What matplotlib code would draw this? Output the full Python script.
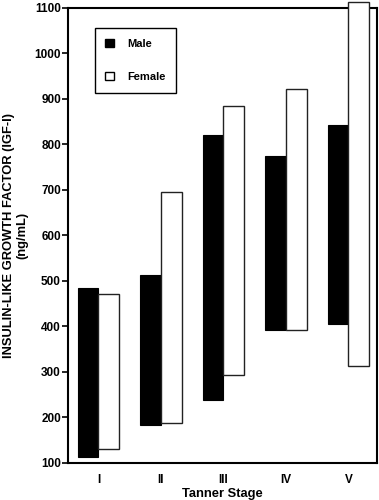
import numpy as np
import matplotlib.pyplot as plt
from matplotlib.patches import Patch

# IGF-I ranges (ng/mL) by Tanner stage
stages = ['I', 'II', 'III', 'IV', 'V']
male_low = [113, 182, 237, 392, 405]
male_high = [485, 512, 820, 775, 843]
female_low = [130, 188, 293, 392, 312]
female_high = [470, 695, 885, 922, 1113]

plt.rcParams['font.family'] = ['Liberation Sans', 'DejaVu Sans']
plt.rcParams['font.weight'] = 'bold'

fig = plt.figure(figsize=(3.79, 5.0), dpi=100)
ax = fig.add_axes([0.179, 0.075, 0.816, 0.909])

x = np.arange(len(stages))
w = 0.33
m_h = np.array(male_high) - np.array(male_low)
f_h = np.array(female_high) - np.array(female_low)
# male bar to the left of the tick, female to the right
ax.bar(x, m_h, -w, bottom=male_low, align='edge', color='black',
       edgecolor='black', linewidth=0.8, clip_on=False, zorder=3)
ax.bar(x, f_h, w, bottom=female_low, align='edge',
       color='white', edgecolor='#222222', linewidth=1.0, clip_on=False, zorder=3)

ax.set_xlim(-0.49, 4.46)
ax.set_ylim(100, 1100)
ax.set_yticks(range(100, 1101, 100))
ax.set_xticks(x)
ax.set_xticklabels(stages)
ax.tick_params(axis='x', length=0, pad=8, labelsize=8.5)
ax.tick_params(axis='y', length=4, width=1.2, labelsize=8.5, pad=1)
for s in ax.spines.values():
    s.set_linewidth(1.5)

ax.set_xlabel('Tanner Stage', fontsize=9.3, fontweight='bold', labelpad=2)
ax.set_ylabel('INSULIN-LIKE GROWTH FACTOR (IGF-I)\n(ng/mL)', fontsize=9.3,
              fontweight='bold', labelpad=4, linespacing=1.15)

handles = [Patch(facecolor='black', edgecolor='black', label='Male'),
           Patch(facecolor='white', edgecolor='black', label='Female')]
leg = ax.legend(handles=handles, loc='upper left', bbox_to_anchor=(0.087, 0.956),
                fancybox=False, shadow=False, edgecolor='black', framealpha=1,
                handlelength=0.8, handleheight=0.8, labelspacing=2.1,
                borderpad=0.95, handletextpad=1.2, borderaxespad=0,
                prop={'size': 8, 'weight': 'bold'})
leg.get_frame().set_linewidth(1.0)

fig.savefig('out.png', dpi=100)
